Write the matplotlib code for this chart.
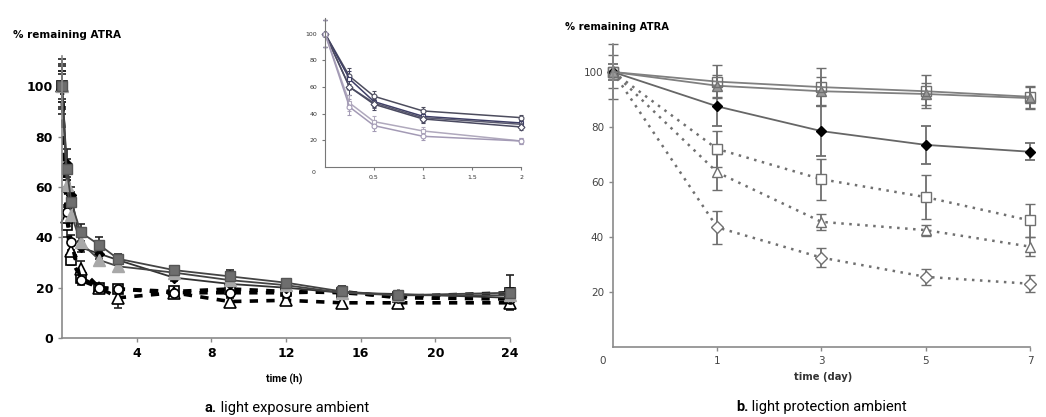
import matplotlib.pyplot as plt
import numpy as np

# ---- panel a : light exposure, hours ----
t_h = [0, 0.25, 0.5, 1, 2, 3, 6, 9, 12, 15, 18, 24]
sq_fill = [100, 67, 54, 42, 37, 31.5, 27, 24.5, 22, 18.5, 17, 18]
sq_fill_err = [9, 4, 4, 3.5, 3, 2, 1.5, 2.5, 1.5, 2, 1, 7]
tri_fill = [100, 61, 49, 38, 31, 28.5, 26, 23, 21, 18, 17, 17]
tri_fill_err = [6, 3, 3, 2, 2, 1.5, 1.5, 2, 1.5, 1.5, 1, 2]
dia_fill = [100, 69, 57, 36, 33.5, 31, 24, 21.5, 20, 18, 17.5, 16]
dia_fill_err = [11, 6, 3, 2, 2, 2, 1.5, 1.5, 1.5, 1.5, 1, 2]
sq_open = [100, 45, 31, 24, 20, 19.5, 18.5, 19.5, 18.5, 18, 16.5, 18]
sq_open_err = [8, 5, 2, 2, 1.5, 1.5, 1, 1.5, 1.5, 2, 2, 2]
tri_open = [100, 48, 34.5, 27.5, 20, 16, 18, 14.5, 15, 14, 14, 14]
tri_open_err = [6, 4, 3, 3, 1, 4, 1, 1.5, 1, 1.5, 2, 1.5]
cir_open = [100, 50, 38, 23, 20, 19.5, 18, 18, 18, 18.5, 16, 15.5]
cir_open_err = [5, 3, 3, 2, 1.5, 1.5, 1, 1.5, 1, 1.5, 1.5, 1.5]

# inset, first two hours
t_in = [0, 0.25, 0.5, 1, 2]
in_a = [100, 68, 53, 42, 37]
in_b = [100, 66, 49, 38, 33]
in_c = [100, 60, 48, 37, 32]
in_d = [100, 60, 47, 36, 30]
in_e = [100, 48, 34, 27, 19.5]
in_f = [100, 45, 31, 23, 19.5]
in_err = [10, 6, 4, 3, 2]

# ---- panel b : light protection, days ----
days = ['0', '1', '3', '5', '7']
b_sq = [100, 96.5, 94.5, 93, 91]
b_sq_err = [10, 6, 7, 6, 4]
b_tri = [100, 95, 93, 92, 90.5]
b_tri_err = [6, 4, 5, 4, 4]
b_dia = [100, 87.5, 78.5, 73.5, 71]
b_dia_err = [3, 7, 9, 7, 3]
b_sq_dot = [100, 72, 61, 54.5, 46]
b_sq_dot_err = [0, 6.5, 7.5, 8, 6]
b_tri_dot = [100, 63.5, 45.5, 42.5, 36.5]
b_tri_dot_err = [0, 6.5, 3, 2, 3.5]
b_dia_dot = [100, 43.5, 32.5, 25.5, 23]
b_dia_dot_err = [0, 6, 3.5, 3, 3]

cond = ['Roboto', 'DejaVu Sans']

fig = plt.figure(figsize=(10.46, 4.17), dpi=100)

# ================= panel a =================
ax = fig.add_axes([0.0593, 0.1894, 0.4283, 0.6756])
ekw = dict(ecolor='#222222', elinewidth=1.2, capsize=3, capthick=1.2)
ax.errorbar(t_h, sq_open, yerr=sq_open_err, color='black', ls=(0, (2.3, 2.3)), lw=2.6,
            marker='s', ms=7, mfc='white', mec='black', mew=1.2, clip_on=False, **ekw)
ax.errorbar(t_h, tri_open, yerr=tri_open_err, color='black', ls=(0, (2.3, 2.3)), lw=2.6,
            marker='^', ms=8, mfc='white', mec='black', mew=1.2, clip_on=False, **ekw)
ax.errorbar(t_h, cir_open, yerr=cir_open_err, color='black', ls=(0, (2.3, 2.3)), lw=2.6,
            marker='o', ms=6.5, mfc='white', mec='black', mew=1.2, clip_on=False, **ekw)
ax.errorbar(t_h, dia_fill, yerr=dia_fill_err, color='#333333', lw=1.3,
            marker='D', ms=5, mfc='black', mec='black', clip_on=False, **ekw)
ax.errorbar(t_h, tri_fill, yerr=tri_fill_err, color='#444444', lw=1.3,
            marker='^', ms=8, mfc='#a8a8a8', mec='#a8a8a8', clip_on=False, **ekw)
ax.errorbar(t_h, sq_fill, yerr=sq_fill_err, color='#444444', lw=1.3,
            marker='s', ms=7.5, mfc='#6e6e6e', mec='#555555', clip_on=False, **ekw)

ax.set_xlim(0, 24)
ax.set_ylim(0, 112)
ax.set_xticks([4, 8, 12, 16, 20, 24])
ax.set_yticks([0, 20, 40, 60, 80, 100])
for s in ['top', 'right']:
    ax.spines[s].set_visible(False)
for s in ['left', 'bottom']:
    ax.spines[s].set_color('#8a8a8a')
    ax.spines[s].set_linewidth(1.2)
ax.tick_params(colors='#8a8a8a', length=3, width=1)
for lab in ax.get_xticklabels() + ax.get_yticklabels():
    lab.set_fontweight('bold')
    lab.set_fontsize(9)
    lab.set_color('black')
fig.text(0.012, 0.915, '% remaining ATRA', fontsize=7.5, fontweight='bold', va='center')
fig.text(0.2715, 0.091, 'time (h)', fontsize=7.5, fontweight='bold', ha='center',
         va='center', family=cond)

# inset
ins = fig.add_axes([0.3107, 0.5995, 0.1874, 0.3585])
in_cols = ['#4d4d5e', '#3e3e66', '#5a5a70', '#4a4a60', '#b0a9bd', '#a39ab5']
in_mk = ['o', 's', '^', 'D', 's', 'o']
for yv, c, m in zip([in_a, in_b, in_c, in_d, in_e, in_f], in_cols, in_mk):
    ins.errorbar(t_in, yv, yerr=in_err, color=c, lw=1.1, marker=m, ms=3.5,
                 mfc='white', mec=c, mew=0.8, ecolor=c, elinewidth=0.7, capsize=1.5,
                 clip_on=False)
ins.set_xlim(0, 2)
ins.set_ylim(0, 112)
ins.set_xticks([0.5, 1, 1.5, 2])
ins.set_xticklabels(['0.5', '1', '1.5', '2'])
ins.set_yticks([20, 40, 60, 80, 100])
for s in ['top', 'right']:
    ins.spines[s].set_visible(False)
for s in ['left', 'bottom']:
    ins.spines[s].set_color('#777777')
ins.tick_params(colors='#777777', length=2, width=0.8, labelsize=4.5, labelcolor='#333333')
ins.text(-0.06, -0.04, '0', transform=ins.transAxes, fontsize=4.5, color='#333333',
         ha='center', va='center')

# ================= panel b =================
bx = fig.add_axes([0.586, 0.1679, 0.3987, 0.7254])
xp = np.arange(len(days))
gkw = dict(ecolor='#6e6e6e', elinewidth=1.3, capsize=3.5, capthick=1.3, clip_on=False)
bx.errorbar(xp, b_dia_dot, yerr=b_dia_dot_err, color='#707070', ls=(0, (1, 2.2)), lw=1.8,
            marker='D', ms=6, mfc='white', mec='#707070', mew=1, **gkw)
bx.errorbar(xp, b_tri_dot, yerr=b_tri_dot_err, color='#707070', ls=(0, (1, 2.2)), lw=1.8,
            marker='^', ms=7.5, mfc='white', mec='#707070', mew=1, **gkw)
bx.errorbar(xp, b_sq_dot, yerr=b_sq_dot_err, color='#707070', ls=(0, (1, 2.2)), lw=1.8,
            marker='s', ms=7, mfc='white', mec='#707070', mew=1, **gkw)
bx.errorbar(xp, b_dia, yerr=b_dia_err, color='#666666', lw=1.3,
            marker='D', ms=5.5, mfc='black', mec='black', **gkw)
bx.errorbar(xp, b_tri, yerr=b_tri_err, color='#808080', lw=1.3,
            marker='^', ms=7.5, mfc='#9a9a9a', mec='#707070', mew=1, **gkw)
bx.errorbar(xp, b_sq, yerr=b_sq_err, color='#808080', lw=1.3,
            marker='s', ms=7, mfc='none', mec='#707070', mew=1, **gkw)

bx.set_xlim(0, len(days) - 1)
bx.set_ylim(0, 110)
bx.set_xticks(xp[1:])
bx.set_xticklabels(days[1:])
bx.set_yticks([20, 40, 60, 80, 100])
for s in ['top', 'right']:
    bx.spines[s].set_visible(False)
for s in ['left', 'bottom']:
    bx.spines[s].set_color('#8a8a8a')
    bx.spines[s].set_linewidth(1.2)
bx.tick_params(colors='#8a8a8a', length=3, width=1, labelsize=7.5, labelcolor='#444444')
bx.text(-0.024, -0.045, days[0], transform=bx.transAxes, fontsize=7.5, color='#444444',
        ha='center', va='center')
fig.text(0.540, 0.935, '% remaining ATRA', fontsize=7.2, fontweight='bold', va='center')
fig.text(0.787, 0.096, 'time (day)', fontsize=7.2, fontweight='bold', ha='center',
         va='center', color='#333333')

# captions
fig.text(0.2075, 0.0216, 'a.', fontsize=10.5, fontweight='bold', ha='right', va='center', family=cond)
fig.text(0.2075, 0.0216, ' light exposure ambient', fontsize=10.5, ha='left', va='center', family=cond)
fig.text(0.7155, 0.024, 'b.', fontsize=10.5, fontweight='bold', ha='right', va='center', family=cond)
fig.text(0.7155, 0.024, ' light protection ambient', fontsize=10.5, ha='left', va='center', family=cond)

fig.savefig('out.png', dpi=100)
